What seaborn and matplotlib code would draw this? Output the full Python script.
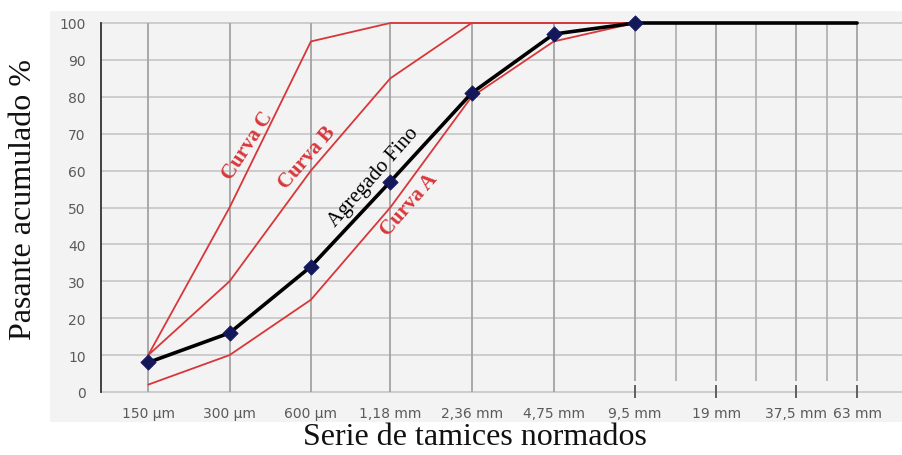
import numpy as np
import pandas as pd
import matplotlib
matplotlib.use("Agg")
import matplotlib.pyplot as plt
from matplotlib.patches import Rectangle
import seaborn as sns

# Sieve series (opening in mm) and their axis labels
sieves_mm = [0.15, 0.30, 0.60, 1.18, 2.36, 4.75, 9.5, 19.0, 37.5, 63.0]
sieve_labels = ["150 µm", "300 µm", "600 µm", "1,18 mm", "2,36 mm",
                "4,75 mm", "9,5 mm", "19 mm", "37,5 mm", "63 mm"]

# Cumulative passing (%) for each curve
curva_a = [2, 10, 25, 50, 80, 95, 100]
curva_b = [10, 30, 60, 85, 100, 100, 100]
curva_c = [10, 50, 95, 100, 100, 100, 100]
agregado_fino = [8, 16, 34, 57, 81, 97, 100, 100, 100, 100]

y_ticks = list(range(0, 101, 10))

RED = "#d8373a"
NAVY = "#14175a"
PANEL = "#f3f3f3"

sns.set_theme(style="white")
plt.rcParams["font.family"] = ["DejaVu Sans"]

W, H = 902, 456
fig = plt.figure(figsize=(W / 100, H / 100), dpi=100, facecolor="white")

# light grey panel behind the chart
fig.patches.append(Rectangle((50 / W, 1 - 423 / H), (W - 50) / W, (423 - 12) / H,
                             transform=fig.transFigure, facecolor=PANEL,
                             edgecolor="none", zorder=-10))

ax = fig.add_axes([101 / W, 1 - 393 / H, (W - 101) / W, (393 - 24) / H])
ax.set_facecolor(PANEL)

ax.set_xscale("log", base=2)
ax.set_xlim(0.1003, 92.4)
ax.set_ylim(0, 100)

# grid: horizontal every 10 %, vertical at each sieve and between coarse sieves
for yv in y_ticks:
    ax.axhline(yv, color="#c9c9c9", lw=1.3, zorder=1, clip_on=False)
fine = [s for s in sieves_mm if s < 9]
coarse = [s for s in sieves_mm if s >= 9]
ax.vlines(fine, 0, 100, color="#a3a3a3", lw=1.3, zorder=1)
ax.vlines(coarse, 3, 100, color="#a3a3a3", lw=1.3, zorder=1)
mids = [np.sqrt(a * b) for a, b in zip(coarse[:-1], coarse[1:])]
ax.vlines(mids, 3, 100, color="#b3b3b3", lw=1.3, zorder=1)
ax.vlines(coarse, -1.5, 2, color="#555555", lw=1.3, zorder=1, clip_on=False)

n = len(curva_a)
df_lim = pd.DataFrame({
    "tamiz": sieves_mm[:n] * 3,
    "pasante": curva_a + curva_b + curva_c,
    "curva": ["A"] * n + ["B"] * n + ["C"] * n,
})
sns.lineplot(data=df_lim, x="tamiz", y="pasante", hue="curva",
             palette=[RED, RED, RED], lw=1.3, legend=False, ax=ax,
             zorder=3, clip_on=False)

df_fino = pd.DataFrame({"tamiz": sieves_mm, "pasante": agregado_fino})
sns.lineplot(data=df_fino, x="tamiz", y="pasante", color="black", lw=2.6,
             ax=ax, zorder=4, clip_on=False)
marked = df_fino[df_fino["tamiz"] <= 9.5]
sns.scatterplot(data=marked, x="tamiz", y="pasante", marker="D", s=60,
                color=NAVY, edgecolor=NAVY, ax=ax, zorder=5, clip_on=False)

ax.set_xticks(sieves_mm)
ax.set_xticklabels(sieve_labels)
ax.xaxis.set_minor_locator(matplotlib.ticker.NullLocator())
ax.set_yticks(y_ticks)
ax.tick_params(axis="both", length=0, labelsize=10, labelcolor="#5a5a5a")
ax.tick_params(axis="x", pad=10)
ax.tick_params(axis="y", pad=11)
ax.set_xlabel("")
ax.set_ylabel("")

for side in ["top", "right", "bottom"]:
    ax.spines[side].set_visible(False)
ax.spines["left"].set_color("#333333")
ax.spines["left"].set_linewidth(1.3)

serif = "Liberation Serif"
# curve labels
ax.text(0.349, 66.9, "Curva C", color=RED, rotation=57, family=serif,
        fontsize=15, fontweight="bold", ha="center", va="center", zorder=6)
ax.text(0.581, 63.7, "Curva B", color=RED, rotation=49, family=serif,
        fontsize=15, fontweight="bold", ha="center", va="center", zorder=6)
ax.text(1.02, 58.5, "Agregado Fino", color="black", rotation=48.5, family=serif,
        fontsize=15, ha="center", va="center", zorder=6)
ax.text(1.386, 50.9, "Curva A", color=RED, rotation=49, family=serif,
        fontsize=15, fontweight="bold", ha="center", va="center", zorder=6)

fig.text(24 / W, 1 - 200 / H, "Pasante acumulado %", rotation=90, family=serif,
         fontsize=23, ha="center", va="center", color="#111111")
fig.text(475 / W, 1 - 438 / H, "Serie de tamices normados", family=serif,
         fontsize=23, ha="center", va="center", color="#111111")

fig.savefig("out.png", dpi=100, facecolor="white")
